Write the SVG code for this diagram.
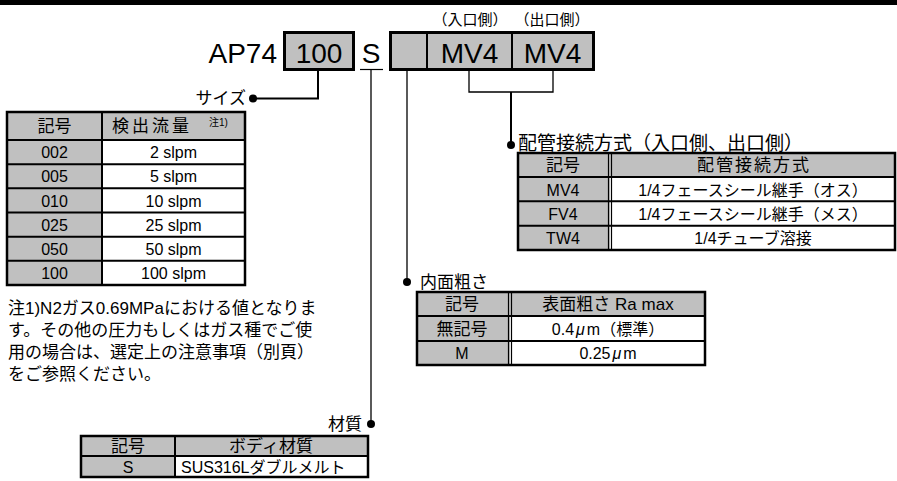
<svg xmlns="http://www.w3.org/2000/svg" width="897" height="481" viewBox="0 0 897 481">
<style>
text{font-family:"Liberation Sans","Noto Sans CJK JP",sans-serif;fill:#000}
.big{font-size:28px}
.lbl{font-size:17px}
.th{font-size:17px;text-anchor:middle}
.td{font-size:16px;text-anchor:middle}
.g{fill:#c0c0c0}
.box{fill:#c0c0c0;stroke:#000;stroke-width:3}
.ln{stroke:#000;stroke-width:2;fill:none}
.thin{stroke:#000;stroke-width:1.2;fill:none}
.wire{stroke:#000;stroke-width:1.3;fill:none}
.dot{fill:#000}
</style>
<rect width="897" height="481" fill="#fff"/>
<rect x="0" y="0" width="897" height="5" fill="#000"/>

<g id="model">
<text class="big" x="277" y="63" text-anchor="end">AP74</text>
<rect class="box" x="284.5" y="32.5" width="69" height="37"/>
<text class="big" x="319" y="63" text-anchor="middle">100</text>
<text class="big" x="371" y="63" text-anchor="middle">S</text>
<line class="thin" x1="360" y1="69.5" x2="383" y2="69.5"/>
<rect class="box" x="390.5" y="32.5" width="203" height="37"/>
<line class="ln" x1="427" y1="32" x2="427" y2="70" stroke-width="3"/>
<line class="ln" x1="512" y1="32" x2="512" y2="70" stroke-width="3"/>
<text class="big" x="469.5" y="63" text-anchor="middle">MV4</text>
<text class="big" x="552.5" y="63" text-anchor="middle">MV4</text>
<text x="470" y="25" font-size="15" text-anchor="middle">（入口側）</text>
<text x="552" y="25" font-size="15" text-anchor="middle">（出口側）</text>
</g>

<g id="connectors">
<polyline class="ln" points="318,71 318,98.5 253,98.5"/>
<circle class="dot" cx="253" cy="98.5" r="4"/>
<line class="wire" x1="371" y1="70" x2="371" y2="424"/>
<circle class="dot" cx="371" cy="424" r="4"/>
<line class="wire" x1="407" y1="71" x2="407" y2="282"/>
<circle class="dot" cx="407" cy="282" r="4"/>
<polyline class="wire" points="469,71 469,92 553,92 553,71"/>
<line class="ln" x1="511" y1="92" x2="511" y2="145"/>
<circle class="dot" cx="511" cy="145" r="4"/>
</g>

<g id="size">
<text class="lbl" x="246" y="104" text-anchor="end">サイズ</text>
<rect class="g" x="7" y="112" width="95" height="173"/>
<rect class="g" x="102" y="112" width="143" height="28"/>
<rect x="7" y="112" width="238" height="173" fill="none" stroke="#000" stroke-width="2.5"/>
<path class="ln" d="M7 140H245M7 164.2H245M7 188.3H245M7 212.5H245M7 236.7H245M7 260.8H245M102 112V285"/>
<text class="th" x="54.5" y="132">記号</text>
<text class="th" x="152" y="132" letter-spacing="3">検出流量</text>
<text x="209" y="126" font-size="10">注1)</text>
<text class="td" x="54.5" y="158">002</text><text class="td" x="173.5" y="158">2 slpm</text>
<text class="td" x="54.5" y="182">005</text><text class="td" x="173.5" y="182">5 slpm</text>
<text class="td" x="54.5" y="206.5">010</text><text class="td" x="173.5" y="206.5">10 slpm</text>
<text class="td" x="54.5" y="230.5">025</text><text class="td" x="173.5" y="230.5">25 slpm</text>
<text class="td" x="54.5" y="254.7">050</text><text class="td" x="173.5" y="254.7">50 slpm</text>
<text class="td" x="54.5" y="279">100</text><text class="td" x="173.5" y="279">100 slpm</text>
</g>

<g id="note">
<text class="lbl" x="8" y="314">注1)N2ガス0.69MPaにおける値となりま</text>
<text class="lbl" x="8" y="336">す。その他の圧力もしくはガス種でご使</text>
<text class="lbl" x="8" y="358">用の場合は、選定上の注意事項（別頁）</text>
<text class="lbl" x="8" y="380">をご参照ください。</text>
</g>

<g id="piping">
<text x="518" y="150" font-size="19">配管接続方式（入口側、出口側）</text>
<rect class="g" x="518" y="153" width="92" height="97"/>
<rect class="g" x="610" y="153" width="285" height="24"/>
<rect x="518" y="153" width="377" height="97" fill="none" stroke="#000" stroke-width="2.5"/>
<path class="ln" d="M518 177H895M518 201.3H895M518 225.7H895"/>
<path class="thin" d="M608.5 153V250M611.5 153V250"/>
<text class="th" x="563" y="171">記号</text>
<text class="th" x="754" y="171" letter-spacing="2">配管接続方式</text>
<text class="td" x="563" y="195.5">MV4</text><text class="td" x="753" y="195.5">1/4フェースシール継手（オス）</text>
<text class="td" x="563" y="219.5">FV4</text><text class="td" x="753" y="219.5">1/4フェースシール継手（メス）</text>
<text class="td" x="563" y="244">TW4</text><text class="td" x="753" y="244">1/4チューブ溶接</text>
</g>

<g id="roughness">
<text class="lbl" x="420" y="288">内面粗さ</text>
<rect class="g" x="417" y="292" width="93" height="73"/>
<rect class="g" x="510" y="292" width="195" height="24"/>
<rect x="417" y="292" width="288" height="73" fill="none" stroke="#000" stroke-width="2.5"/>
<path class="ln" d="M417 316H705M417 341H705"/>
<path class="thin" d="M508.5 292V365M511.5 292V365"/>
<text class="th" x="462" y="310">記号</text>
<text class="th" x="608" y="310">表面粗さ Ra max</text>
<text class="th" x="462" y="335">無記号</text><text class="td" x="608" y="335">0.4<tspan dx="2" font-style="italic">μ</tspan><tspan dx="2">m（標準）</tspan></text>
<text class="td" x="462" y="359">M</text><text class="td" x="608" y="359">0.25<tspan dx="2" font-style="italic">μ</tspan><tspan dx="2">m</tspan></text>
</g>

<g id="material">
<text class="lbl" x="362" y="430" text-anchor="end">材質</text>
<rect class="g" x="81" y="436" width="94" height="41"/>
<rect class="g" x="175" y="436" width="193" height="20"/>
<rect x="81" y="436" width="287" height="41" fill="none" stroke="#000" stroke-width="2.5"/>
<path class="ln" d="M81 456H368M175 436V477"/>
<text class="th" x="128" y="452">記号</text>
<text class="th" x="271" y="452">ボディ材質</text>
<text class="td" x="128" y="473">S</text>
<text x="181" y="473" font-size="16">SUS316Lダブルメルト</text>
</g>
</svg>
